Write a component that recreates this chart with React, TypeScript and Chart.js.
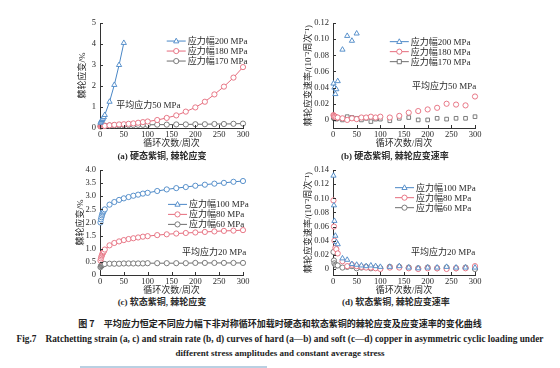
import React, { useEffect, useRef } from "react";
import { Chart, registerables } from "chart.js";
Chart.register(...registerables);

const FONT = "'Liberation Serif', 'Noto Sans CJK SC', serif";
const BLUE = "#4a87c6";
const RED = "#e56b7c";
const GRAY = "#6e6e6e";
const TXT = "#2a2a2a";

// ---------- data ----------
const xTicks = [0, 50, 100, 150, 200, 250, 300];

// (a) hard copper, ratchetting strain (%)
const aX200 = [1, 2, 3, 4, 5, 6, 8, 10, 20, 30, 40, 50];
const aY200 = [0.25, 0.3, 0.35, 0.38, 0.42, 0.45, 0.52, 0.62, 1.25, 2.05, 3.0, 4.05];
const aX = [1, 2, 3, 4, 5, 6, 8, 10, 20, 30, 40, 50, 60, 70, 80, 90, 100, 120, 140, 160, 180, 200, 220, 240, 260, 280, 300];
const aY180 = [0.08, 0.09, 0.09, 0.1, 0.1, 0.1, 0.1, 0.1, 0.13, 0.15, 0.17, 0.18, 0.2, 0.22, 0.25, 0.28, 0.31, 0.38, 0.48, 0.6, 0.78, 0.98, 1.25, 1.6, 1.97, 2.4, 2.9];
const aY170 = [0.08, 0.09, 0.1, 0.1, 0.1, 0.1, 0.11, 0.11, 0.12, 0.13, 0.13, 0.14, 0.14, 0.14, 0.15, 0.15, 0.15, 0.16, 0.16, 0.17, 0.17, 0.18, 0.18, 0.19, 0.19, 0.2, 0.21];
const aYTicks = [0, 1, 2, 3, 4, 5];

// (b) hard copper, ratchetting strain rate
const bX200 = [1, 3, 5, 7, 10, 20, 30, 40, 50];
const bY200 = [0.045, 0.04, 0.032, 0.038, 0.048, 0.087, 0.104, 0.098, 0.107];
const bX = [1, 2, 3, 5, 7, 10, 20, 30, 40, 50, 60, 70, 80, 90, 100, 120, 140, 160, 180, 200, 220, 240, 260, 280, 300];
const bY180 = [0.006, 0.005, 0.004, 0.004, 0.003, 0.003, 0.002, 0.0, 0.002, 0.001, 0.003, 0.003, 0.004, 0.003, 0.004, 0.003, 0.005, 0.009, 0.011, 0.013, 0.015, 0.02, 0.019, 0.018, 0.029];
const bY170 = [0.003, 0.002, 0.002, 0.002, 0.001, 0.002, 0.0, 0.004, 0.003, 0.002, 0.0, 0.002, -0.002, 0.001, 0.001, -0.001, 0.002, 0.003, 0.0, 0.0, 0.002, 0.001, 0.002, 0.002, 0.004];
const bYTicks = [0, 0.02, 0.04, 0.06, 0.08, 0.1, 0.12];

// (c) soft copper, ratchetting strain (%)
const cX = [1, 2, 3, 4, 5, 6, 7, 8, 10, 20, 30, 40, 50, 60, 70, 80, 90, 100, 120, 140, 160, 180, 200, 220, 240, 260, 280, 300];
const cY100 = [2.0, 2.12, 2.2, 2.27, 2.33, 2.38, 2.42, 2.45, 2.5, 2.68, 2.78, 2.86, 2.92, 2.97, 3.02, 3.06, 3.1, 3.13, 3.2, 3.26, 3.31, 3.35, 3.4, 3.44, 3.48, 3.51, 3.55, 3.58];
const cY80 = [0.55, 0.63, 0.7, 0.75, 0.8, 0.84, 0.87, 0.9, 0.97, 1.13, 1.22, 1.28, 1.33, 1.37, 1.4, 1.43, 1.46, 1.48, 1.52, 1.55, 1.58, 1.6, 1.62, 1.64, 1.66, 1.68, 1.69, 1.71];
const cY60 = [0.3, 0.34, 0.37, 0.38, 0.39, 0.4, 0.41, 0.41, 0.42, 0.43, 0.43, 0.43, 0.44, 0.44, 0.44, 0.44, 0.44, 0.45, 0.45, 0.45, 0.45, 0.45, 0.46, 0.46, 0.46, 0.46, 0.46, 0.46];
const cYTicks = [0, 0.5, 1, 1.5, 2, 2.5, 3, 3.5, 4];

// (d) soft copper, ratchetting strain rate
const dX = [1, 2, 3, 5, 7, 10, 20, 30, 40, 50, 60, 70, 80, 90, 100, 120, 140, 160, 180, 200, 220, 240, 260, 280, 300];
const dY100 = [0.132, 0.09, 0.068, 0.047, 0.038, 0.035, 0.015, 0.013, 0.007, 0.006, 0.005, 0.004, 0.005, 0.004, 0.003, 0.003, 0.004, 0.002, 0.001, 0.002, 0.002, 0.003, 0.002, 0.002, 0.002];
const dY80 = [0.097, 0.06, 0.04, 0.03, 0.028, 0.022, 0.011, 0.004, 0.006, 0.004, 0.003, 0.002, 0.002, 0.001, 0.0, 0.002, 0.002, 0.001, 0.0, 0.001, 0.001, 0.0, 0.001, 0.001, 0.004];
const dY60 = [0.024, 0.012, 0.008, 0.006, 0.005, 0.005, 0.002, 0.003, 0.004, 0.001, 0.002, 0.003, 0.001, 0.002, 0.001, 0.003, 0.003, 0.002, 0.001, 0.002, 0.001, 0.002, 0.001, 0.002, 0.0];
const dYTicks = [0, 0.02, 0.04, 0.06, 0.08, 0.1, 0.12, 0.14];

const X_TITLE = "循环次数/周次";
const Y_STRAIN = "棘轮应变/%";
const Y_RATE = "棘轮应变速率/(10⁻²周次⁻¹)";

// ---------- helpers ----------
function pts(xs: number[], ys: number[]) {
  return xs.map((x, i) => ({ x, y: ys[i] }));
}

function drawMarker(ctx: CanvasRenderingContext2D, style: string, x: number, y: number, r: number) {
  ctx.beginPath();
  if (style === "triangle") {
    const h = r * 1.5;
    ctx.moveTo(x, y - r * 1.1);
    ctx.lineTo(x + h * 0.577 * 1.15, y + r * 0.7);
    ctx.lineTo(x - h * 0.577 * 1.15, y + r * 0.7);
    ctx.closePath();
  } else if (style === "rect") {
    ctx.rect(x - r * 0.8, y - r * 0.8, r * 1.6, r * 1.6);
  } else {
    ctx.arc(x, y, r, 0, Math.PI * 2);
  }
  ctx.fillStyle = "#fff";
  ctx.fill();
  ctx.stroke();
}

const decoPlugin = {
  id: "deco",
  afterDraw(chart: any, _args: any, opts: any) {
    const ctx: CanvasRenderingContext2D = chart.ctx;
    const xs = chart.scales.x;
    const ys = chart.scales.y;
    const { left, bottom } = chart.chartArea;
    ctx.save();
    // inward tick marks
    ctx.strokeStyle = "#333";
    ctx.lineWidth = 1;
    xs.ticks.forEach((t: any) => {
      const px = Math.round(xs.getPixelForValue(t.value)) + 0.5;
      ctx.beginPath();
      ctx.moveTo(px, bottom);
      ctx.lineTo(px, bottom - 3);
      ctx.stroke();
    });
    ys.ticks.forEach((t: any) => {
      const py = Math.round(ys.getPixelForValue(t.value)) + 0.5;
      ctx.beginPath();
      ctx.moveTo(left, py);
      ctx.lineTo(left + 3, py);
      ctx.stroke();
    });
    // legend
    const lg = opts.legend;
    const lx = xs.getPixelForValue(lg.x);
    const ly = ys.getPixelForValue(lg.y);
    ctx.font = `9px ${FONT}`;
    ctx.textBaseline = "middle";
    ctx.textAlign = "left";
    chart.data.datasets.forEach((ds: any, i: number) => {
      const y = ly + i * lg.gap;
      ctx.strokeStyle = ds.borderColor;
      ctx.lineWidth = 1;
      ctx.beginPath();
      ctx.moveTo(lx, y);
      ctx.lineTo(lx + 19, y);
      ctx.stroke();
      ctx.lineWidth = 0.9;
      drawMarker(ctx, ds.legendMarker || ds.pointStyle, lx + 9.5, y, 2.6);
      ctx.fillStyle = TXT;
      ctx.fillText(ds.label, lx + 21, y + 0.5);
    });
    // note
    const nt = opts.note;
    ctx.fillStyle = TXT;
    ctx.font = `9px ${FONT}`;
    ctx.fillText(nt.text, xs.getPixelForValue(nt.x), ys.getPixelForValue(nt.y));
    ctx.restore();
  },
};

type Spec = {
  datasets: any[];
  showLine: boolean;
  yMin: number;
  yMax: number;
  yTicks: number[];
  yFmt: (v: number) => string;
  yTitle: string;
  legend: { x: number; y: number; gap: number };
  note: { text: string; x: number; y: number };
  yw: number;
  xh: number;
  padTop: number;
  padRight: number;
};

function ChartBox({ spec, left, top, width, height }: { spec: Spec; left: number; top: number; width: number; height: number }) {
  const ref = useRef<HTMLCanvasElement>(null);
  useEffect(() => {
    if (!ref.current) return;
    const tickFont = { family: FONT, size: 8.5 };
    const titleFont = { family: FONT, size: 9 };
    const chart = new Chart(ref.current, {
      type: "line",
      data: {
        datasets: spec.datasets.map((d) => ({
          ...d,
          showLine: spec.showLine,
          borderWidth: 1,
          pointRadius: d.pointStyle === "triangle" ? 3 : 2.6,
          pointBorderWidth: 0.9,
          pointBackgroundColor: "#fff",
          pointBorderColor: d.borderColor,
          tension: 0,
          clip: false,
        })),
      },
      options: {
        animation: false,
        responsive: false,
        devicePixelRatio: 1,
        events: [],
        layout: { padding: { top: spec.padTop, right: spec.padRight, left: 0, bottom: 0 } },
        plugins: {
          legend: { display: false },
          tooltip: { enabled: false },
          deco: { legend: spec.legend, note: spec.note },
        } as any,
        scales: {
          x: {
            type: "linear",
            min: 0,
            max: 300,
            afterFit: (s: any) => {
              s.height = spec.xh;
            },
            afterBuildTicks: (s: any) => {
              s.ticks = xTicks.map((v) => ({ value: v }));
            },
            ticks: {
              font: tickFont,
              color: TXT,
              padding: 2,
              maxRotation: 0,
              autoSkip: false,
              callback: (v: any) => String(v),
            },
            grid: { display: false, drawTicks: false },
            border: { display: true, color: "#333", width: 1 },
            title: { display: true, text: X_TITLE, font: titleFont, color: TXT, padding: 0 },
          },
          y: {
            type: "linear",
            min: spec.yMin,
            max: spec.yMax,
            afterFit: (s: any) => {
              s.width = spec.yw;
            },
            afterBuildTicks: (s: any) => {
              s.ticks = spec.yTicks.map((v) => ({ value: v }));
            },
            ticks: {
              font: tickFont,
              color: TXT,
              padding: 4,
              autoSkip: false,
              callback: (v: any) => spec.yFmt(Number(v)),
            },
            grid: { display: false, drawTicks: false },
            border: { display: true, color: "#333", width: 1 },
            title: { display: true, text: spec.yTitle, font: titleFont, color: TXT, padding: 0 },
          },
        },
      } as any,
      plugins: [decoPlugin],
    });
    return () => chart.destroy();
  }, []);
  return <canvas ref={ref} width={width} height={height} style={{ position: "absolute", left, top, width, height }} />;
}

const fmtInt = (v: number) => String(Math.round(v));
const fmt2 = (v: number) => (v === 0 ? "0" : v.toFixed(2));
const fmt1 = (v: number) => (v === 0 ? "0" : v.toFixed(1));

const specA: Spec = {
  datasets: [
    { label: "应力幅200 MPa", data: pts(aX200, aY200), borderColor: BLUE, pointStyle: "triangle" },
    { label: "应力幅180 MPa", data: pts(aX, aY180), borderColor: RED, pointStyle: "circle" },
    { label: "应力幅170 MPa", data: pts(aX, aY170), borderColor: GRAY, pointStyle: "circle" },
  ],
  showLine: true,
  yMin: 0,
  yMax: 5,
  yTicks: aYTicks,
  yFmt: fmtInt,
  yTitle: Y_STRAIN,
  legend: { x: 140, y: 4.14, gap: 10 },
  note: { text: "平均应力50 MPa", x: 34, y: 1.05 },
  yw: 23,
  xh: 21,
  padTop: 13,
  padRight: 20,
};

const specB: Spec = {
  datasets: [
    { label: "应力幅200 MPa", data: pts(bX200, bY200), borderColor: BLUE, pointStyle: "triangle" },
    { label: "应力幅180 MPa", data: pts(bX, bY180), borderColor: RED, pointStyle: "circle" },
    { label: "应力幅170 MPa", data: pts(bX, bY170), borderColor: GRAY, pointStyle: "rect" },
  ],
  showLine: false,
  yMin: -0.01,
  yMax: 0.12,
  yTicks: bYTicks,
  yFmt: fmt2,
  yTitle: Y_RATE,
  legend: { x: 120, y: 0.0969, gap: 10 },
  note: { text: "平均应力50 MPa", x: 167, y: 0.041 },
  yw: 30,
  xh: 21,
  padTop: 13,
  padRight: 20,
};

const specC: Spec = {
  datasets: [
    { label: "应力幅100 MPa", data: pts(cX, cY100), borderColor: BLUE, pointStyle: "circle", legendMarker: "triangle" },
    { label: "应力幅80 MPa", data: pts(cX, cY80), borderColor: RED, pointStyle: "circle" },
    { label: "应力幅60 MPa", data: pts(cX, cY60), borderColor: GRAY, pointStyle: "circle" },
  ],
  showLine: true,
  yMin: 0,
  yMax: 4,
  yTicks: cYTicks,
  yFmt: fmt1,
  yTitle: Y_STRAIN,
  legend: { x: 142.7, y: 2.69, gap: 10 },
  note: { text: "平均应力20 MPa", x: 172, y: 0.857 },
  yw: 25,
  xh: 21,
  padTop: 13,
  padRight: 20,
};

const specD: Spec = {
  datasets: [
    { label: "应力幅100 MPa", data: pts(dX, dY100), borderColor: BLUE, pointStyle: "triangle" },
    { label: "应力幅80 MPa", data: pts(dX, dY80), borderColor: RED, pointStyle: "circle" },
    { label: "应力幅60 MPa", data: pts(dX, dY60), borderColor: GRAY, pointStyle: "circle" },
  ],
  showLine: false,
  yMin: -0.0085,
  yMax: 0.14,
  yTicks: dYTicks,
  yFmt: fmt2,
  yTitle: Y_RATE,
  legend: { x: 131, y: 0.115, gap: 10 },
  note: { text: "平均应力20 MPa", x: 165, y: 0.0233 },
  yw: 30,
  xh: 21,
  padTop: 13,
  padRight: 20,
};

function Cap({ text, cx, cy }: { text: string; cx: number; cy: number }) {
  return (
    <div
      style={{
        position: "absolute",
        left: cx - 120,
        width: 240,
        top: cy - 6,
        height: 12,
        lineHeight: "12px",
        textAlign: "center",
        fontFamily: FONT,
        fontWeight: "bold",
        fontSize: 9,
        color: TXT,
        whiteSpace: "nowrap",
      }}
    >
      {text}
    </div>
  );
}

function Line({ text, cy, size, family, spacing }: { text: string; cy: number; size: number; family: string; spacing?: number }) {
  return (
    <div
      style={{
        position: "absolute",
        left: 0,
        width: 560,
        top: cy - 6,
        height: 12,
        lineHeight: "12px",
        textAlign: "center",
        fontFamily: family,
        fontWeight: "bold",
        fontSize: size,
        letterSpacing: spacing ? `${spacing}px` : undefined,
        color: "#222",
        whiteSpace: "nowrap",
      }}
    >
      {text}
    </div>
  );
}

export default function App() {
  return (
    <div style={{ position: "absolute", left: 0, top: 0, width: 560, height: 368, background: "#fff", overflow: "hidden" }}>
      <ChartBox spec={specA} left={77} top={10} width={186} height={139} />
      <ChartBox spec={specB} left={303} top={10} width={192} height={139} />
      <ChartBox spec={specC} left={75} top={157} width={188} height={139} />
      <ChartBox spec={specD} left={303} top={157} width={192} height={139} />
      <Cap text="(a) 硬态紫铜, 棘轮应变" cx={162} cy={156} />
      <Cap text="(b) 硬态紫铜, 棘轮应变速率" cx={395} cy={156} />
      <Cap text="(c) 软态紫铜, 棘轮应变" cx={162} cy={302} />
      <Cap text="(d) 软态紫铜, 棘轮应变速率" cx={396} cy={302} />
      <Line
        text="图 7　平均应力恒定不同应力幅下非对称循环加载时硬态和软态紫铜的棘轮应变及应变速率的变化曲线"
        cy={324}
        size={9}
        family="'Noto Sans CJK SC', sans-serif"
      />
      <Line
        text="Fig.7　Ratchetting strain (a, c) and strain rate (b, d) curves of hard (a—b) and soft (c—d) copper in asymmetric cyclic loading under"
        cy={339}
        size={9.3}
        family="'Liberation Serif', serif"
      />
      <Line text="different stress amplitudes and constant average stress" cy={353} size={9} family="'Liberation Serif', serif" />
      <div style={{ position: "absolute", left: 80, top: 366, width: 187, height: 2, background: "#b9d0e2" }} />
    </div>
  );
}
